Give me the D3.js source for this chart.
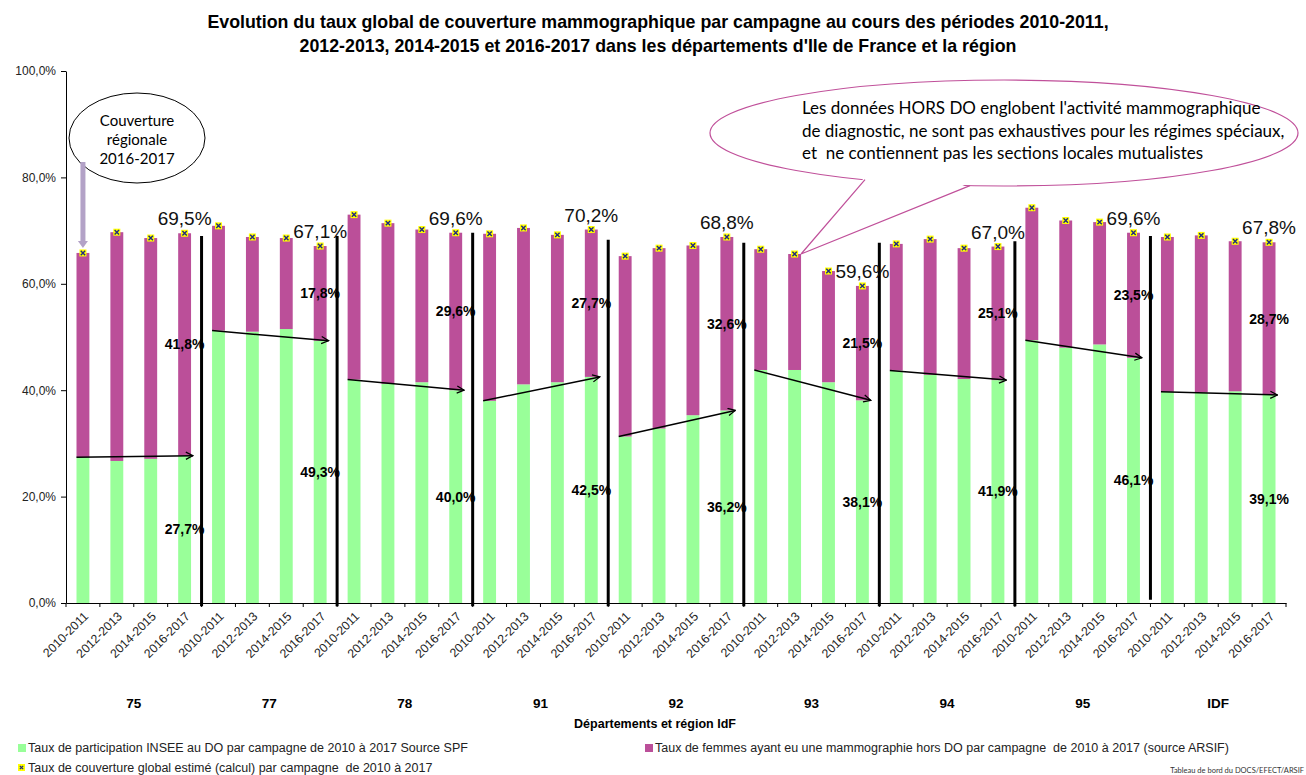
<!DOCTYPE html>
<html>
<head>
<meta charset="utf-8">
<script src="https://cdn.jsdelivr.net/npm/d3@7"></script>
<style>
body { margin: 0; background: #fff; }
svg { display: block; }
</style>
</head>
<body>
<script>
// données
var periodes = ["2010-2011", "2012-2013", "2014-2015", "2016-2017"];
var departements = ["75", "77", "78", "91", "92", "93", "94", "95", "IDF"];

// taux de participation au DO (vert)
var tauxDO = [
  [27.4, 26.7, 27.1, 27.7],
  [51.2, 51.0, 51.5, 49.3],
  [42.0, 41.2, 41.5, 40.0],
  [38.0, 41.1, 41.5, 42.5],
  [31.3, 32.8, 35.3, 36.2],
  [43.8, 43.8, 41.5, 38.1],
  [43.7, 42.9, 42.1, 41.9],
  [49.4, 48.0, 48.6, 46.1],
  [39.7, 39.6, 39.8, 39.1]
];

// taux hors DO (violet)
var tauxHorsDO = [
  [38.4, 43.0, 41.5, 41.8],
  [19.7, 17.8, 17.1, 17.8],
  [31.0, 30.2, 28.7, 29.6],
  [31.4, 29.4, 27.7, 27.7],
  [33.9, 33.9, 31.9, 32.6],
  [22.7, 21.8, 20.9, 21.5],
  [23.8, 25.5, 24.6, 25.1],
  [24.9, 23.9, 23.0, 23.5],
  [29.1, 29.5, 28.2, 28.7]
];

// taux de couverture global (marqueurs)
var couverture = [
  [65.8, 69.7, 68.6, 69.5],
  [70.9, 68.8, 68.6, 67.1],
  [73.0, 71.4, 70.2, 69.6],
  [69.4, 70.5, 69.2, 70.2],
  [65.2, 66.7, 67.2, 68.8],
  [66.5, 65.6, 62.4, 59.6],
  [67.5, 68.4, 66.7, 67.0],
  [74.3, 71.9, 71.6, 69.6],
  [68.8, 69.1, 68.0, 67.8]
];

// haut des traits de séparation entre départements (en %)
var separateurs = [69.0, 69.0, 69.6, 68.3, 67.7, 67.7, 68.0, 69.0];

var yTicks = [0, 20, 40, 60, 80, 100];

var w = 1306, h = 775;
var mLeft = 66, mRight = 1286, mTop = 71, mBottom = 603;
var vert = "#99FF99", violet = "#BB4F99";
var police = "'Liberation Sans', Arial, sans-serif";
var policeNote = "Lato, 'Open Sans', sans-serif";

var rows = [];
departements.forEach(function (dep, i) {
  periodes.forEach(function (p, j) {
    rows.push({ key: dep + "|" + p, dep: dep, periode: p, i: i, j: j,
      vert: tauxDO[i][j], violet: tauxHorsDO[i][j], total: couverture[i][j] });
  });
});

var svg = d3.select("body").append("svg")
  .attr("width", w)
  .attr("height", h)
  .style("font-family", police);

var defs = svg.append("defs");
defs.append("marker")
  .attr("id", "pointe")
  .attr("viewBox", "0 0 10 10")
  .attr("refX", 9).attr("refY", 5)
  .attr("markerWidth", 9).attr("markerHeight", 9)
  .attr("markerUnits", "userSpaceOnUse")
  .attr("orient", "auto")
  .append("path")
  .attr("d", "M1,1L9,5L1,9")
  .attr("fill", "none")
  .attr("stroke", "#000")
  .attr("stroke-width", 1.4);

var x = d3.scaleBand()
  .domain(rows.map(function (d) { return d.key; }))
  .range([mLeft, mRight])
  .paddingInner(0.62)
  .paddingOuter(0.31);

var y = d3.scaleLinear().domain([0, 100]).range([mBottom, mTop]);
var bw = x.bandwidth();
var step = x.step();

function fmt(v) { return d3.format(".1f")(v).replace(".", ",") + "%"; }

// titre
var titre = svg.append("text")
  .attr("text-anchor", "middle")
  .style("font-weight", "bold")
  .style("font-size", "17.8px");
titre.append("tspan").attr("x", 658).attr("y", 28)
  .text("Evolution du taux global de couverture mammographique par campagne au cours des périodes 2010-2011,");
titre.append("tspan").attr("x", 658).attr("y", 52)
  .text("2012-2013, 2014-2015 et 2016-2017 dans les départements d'Ile de France et la région");

// axe Y
var yAxis = svg.append("g")
  .attr("transform", "translate(" + mLeft + ",0)")
  .call(d3.axisLeft(y).tickValues(yTicks).tickFormat(fmt).tickSize(5).tickSizeOuter(0).tickPadding(5));
yAxis.selectAll("text").style("font-size", "12px").style("font-family", police).attr("fill", "#222");
yAxis.select(".domain").attr("stroke", "#000");

// barres empilées
var stack = d3.stack().keys(["vert", "violet"]);
var series = stack(rows);
var couleurs = { vert: vert, violet: violet };

svg.append("g").selectAll("g")
  .data(series)
  .enter().append("g")
  .attr("fill", function (s) { return couleurs[s.key]; })
  .selectAll("rect")
  .data(function (s) { return s; })
  .enter().append("rect")
  .attr("x", function (d) { return x(d.data.key); })
  .attr("y", function (d) { return y(d[1]); })
  .attr("width", bw)
  .attr("height", function (d) { return y(d[0]) - y(d[1]); });

// axe X
var xAxis = svg.append("g")
  .attr("transform", "translate(0," + mBottom + ")")
  .call(d3.axisBottom(x).tickSize(0).tickSizeOuter(0).tickPadding(0)
    .tickFormat(function (k) { return k.split("|")[1]; }));
xAxis.select(".domain").attr("stroke", "#000");
xAxis.selectAll("text")
  .attr("y", 0).attr("x", 0).attr("dy", "0.35em")
  .attr("transform", "translate(3,11) rotate(-45)")
  .style("text-anchor", "end")
  .style("font-size", "12.3px")
  .style("font-family", police)
  .attr("fill", "#222");
svg.append("g").selectAll("line")
  .data(d3.range(rows.length + 1))
  .enter().append("line")
  .attr("x1", function (k) { return mLeft + k * step; })
  .attr("x2", function (k) { return mLeft + k * step; })
  .attr("y1", mBottom).attr("y2", mBottom + 4)
  .attr("stroke", "#000");

// séparateurs entre départements
svg.append("g").selectAll("line")
  .data(separateurs)
  .enter().append("line")
  .attr("x1", function (d, k) { return mLeft + (k + 1) * periodes.length * step; })
  .attr("x2", function (d, k) { return mLeft + (k + 1) * periodes.length * step; })
  .attr("y1", function (d) { return y(d); })
  .attr("y2", function (d, k) { return k === separateurs.length - 1 ? y(0.6) : y(-0.6); })
  .attr("stroke", "#000")
  .attr("stroke-width", 3);

// flèches d'évolution du DO
svg.append("g").selectAll("line")
  .data(departements)
  .enter().append("line")
  .attr("x1", function (dep) { return x(dep + "|" + periodes[0]); })
  .attr("y1", function (dep, i) { return y(tauxDO[i][0]); })
  .attr("x2", function (dep) { return x(dep + "|" + periodes[3]) + bw + 2; })
  .attr("y2", function (dep, i) { return y(tauxDO[i][3]); })
  .attr("stroke", "#000")
  .attr("stroke-width", 1.5)
  .attr("marker-end", "url(#pointe)");

// marqueurs de couverture globale
var mk = svg.append("g").selectAll("g")
  .data(rows)
  .enter().append("g")
  .attr("transform", function (d) {
    return "translate(" + (x(d.key) + bw / 2) + "," + y(d.total) + ")";
  });
mk.append("rect").attr("x", -3.5).attr("y", -3.5).attr("width", 7).attr("height", 7).attr("fill", "#FFFF00");
mk.append("path").attr("d", "M-2.2,-2.2L2.2,2.2M-2.2,2.2L2.2,-2.2").attr("stroke", "#1F2A80").attr("stroke-width", 1.4);

// étiquettes de la dernière période
var derniers = rows.filter(function (d) { return d.j === periodes.length - 1; });
var lab = svg.append("g").attr("text-anchor", "middle");
lab.selectAll(".tot")
  .data(derniers)
  .enter().append("text")
  .attr("class", "tot")
  .attr("x", function (d) { return x(d.key) + bw / 2; })
  .attr("y", function (d) { return y(d.total) - 8; })
  .style("font-size", "19px")
  .attr("fill", "#111")
  .text(function (d) { return fmt(d.total); });
lab.selectAll(".vio")
  .data(derniers)
  .enter().append("text")
  .attr("class", "vio")
  .attr("x", function (d) { return x(d.key) + bw / 2; })
  .attr("y", function (d) { return y(d.vert + d.violet / 2); })
  .attr("dy", "0.35em")
  .style("font-size", "14px")
  .style("font-weight", "bold")
  .text(function (d) { return fmt(d.violet); });
lab.selectAll(".ver")
  .data(derniers)
  .enter().append("text")
  .attr("class", "ver")
  .attr("x", function (d) { return x(d.key) + bw / 2; })
  .attr("y", function (d) { return y(d.vert / 2); })
  .attr("dy", "0.35em")
  .style("font-size", "14px")
  .style("font-weight", "bold")
  .text(function (d) { return fmt(d.vert); });

// noms des départements
svg.append("g").selectAll("text")
  .data(departements)
  .enter().append("text")
  .attr("x", function (dep) {
    return (x(dep + "|" + periodes[0]) + x(dep + "|" + periodes[3]) + bw) / 2;
  })
  .attr("y", 708)
  .attr("text-anchor", "middle")
  .style("font-weight", "bold")
  .style("font-size", "13.5px")
  .text(function (dep) { return dep; });

svg.append("text")
  .attr("x", 655).attr("y", 728)
  .attr("text-anchor", "middle")
  .style("font-weight", "bold")
  .style("font-size", "12.5px")
  .text("Départements et région IdF");

// bulle "Couverture régionale"
var b0 = rows[0];
var bx = x(b0.key) + bw / 2;
svg.append("ellipse")
  .attr("cx", 137).attr("cy", 138).attr("rx", 68).attr("ry", 45)
  .attr("fill", "#fff").attr("stroke", "#000").attr("stroke-width", 1);
svg.append("text")
  .attr("text-anchor", "middle")
  .style("font-family", policeNote)
  .style("font-size", "15px")
  .selectAll("tspan")
  .data(["Couverture", "régionale", "2016-2017"])
  .enter().append("tspan")
  .attr("x", 137)
  .attr("y", function (d, k) { return 126 + k * 19; })
  .text(function (d) { return d; });
svg.append("line")
  .attr("x1", bx).attr("x2", bx)
  .attr("y1", 162).attr("y2", y(b0.total) - 11)
  .attr("stroke", "#B3A2C7").attr("stroke-width", 5);
svg.append("path")
  .attr("d", "M" + (bx - 5) + "," + (y(b0.total) - 12) + "L" + (bx + 5) + "," + (y(b0.total) - 12) + "L" + bx + "," + (y(b0.total) - 5) + "Z")
  .attr("fill", "#B3A2C7");

// bulle "HORS DO"
var cible = rows.filter(function (d) { return d.dep === "93" && d.j === 1; })[0];
var tx = x(cible.key) + bw, ty = y(cible.total);
var cx = 1004, cy = 133, rx = 294, ry = 53;
function basEllipse(px) { return cy + ry * Math.sqrt(1 - Math.pow((px - cx) / rx, 2)); }
var p1 = [865, basEllipse(865)], p2 = [970, basEllipse(970)];
var bulle = svg.append("g");
bulle.append("ellipse")
  .attr("cx", cx).attr("cy", cy).attr("rx", rx).attr("ry", ry)
  .attr("fill", "#fff").attr("stroke", "#C0509A").attr("stroke-width", 1.2);
bulle.append("path")
  .attr("d", "M" + p1[0] + "," + (p1[1] - 3) + "L" + tx + "," + ty + "L" + p2[0] + "," + (p2[1] - 3) + "Z")
  .attr("fill", "#fff");
bulle.append("path")
  .attr("d", "M" + p1[0] + "," + p1[1] + "L" + tx + "," + ty + "L" + p2[0] + "," + p2[1])
  .attr("fill", "none").attr("stroke", "#C0509A").attr("stroke-width", 1.2);
bulle.append("text")
  .style("font-family", policeNote)
  .style("font-size", "17px")
  .selectAll("tspan")
  .data(["Les données HORS DO englobent l'activité mammographique",
         "de diagnostic, ne sont pas exhaustives pour les régimes spéciaux,",
         "et  ne contiennent pas les sections locales mutualistes"])
  .enter().append("tspan")
  .attr("x", 802)
  .attr("y", function (d, k) { return 114 + k * 22.5; })
  .style("white-space", "pre")
  .text(function (d) { return d; });

// légende
var leg = svg.append("g").style("font-size", "12.5px").attr("fill", "#222");
leg.append("rect").attr("x", 18).attr("y", 744).attr("width", 8).attr("height", 8).attr("fill", vert);
leg.append("text").attr("x", 28).attr("y", 752).text("Taux de participation INSEE au DO par campagne de 2010 à 2017 Source SPF");
leg.append("rect").attr("x", 645).attr("y", 744).attr("width", 8).attr("height", 8).attr("fill", violet);
leg.append("text").attr("x", 655).attr("y", 752).style("white-space", "pre")
  .text("Taux de femmes ayant eu une mammographie hors DO par campagne  de 2010 à 2017 (source ARSIF)");
leg.append("rect").attr("x", 18).attr("y", 764).attr("width", 7).attr("height", 7).attr("fill", "#FFFF00");
leg.append("path").attr("d", "M19.8,765.8L23.2,769.2M19.8,769.2L23.2,765.8").attr("stroke", "#1F2A80").attr("stroke-width", 1.2);
leg.append("text").attr("x", 28).attr("y", 772).style("white-space", "pre")
  .text("Taux de couverture global estimé (calcul) par campagne  de 2010 à 2017");

svg.append("text")
  .attr("x", 1304).attr("y", 773)
  .attr("text-anchor", "end")
  .style("font-family", policeNote)
  .style("font-size", "7.5px")
  .attr("fill", "#333")
  .text("Tableau de bord du DOCS/EFECT/ARSIF");
</script>
</body>
</html>
